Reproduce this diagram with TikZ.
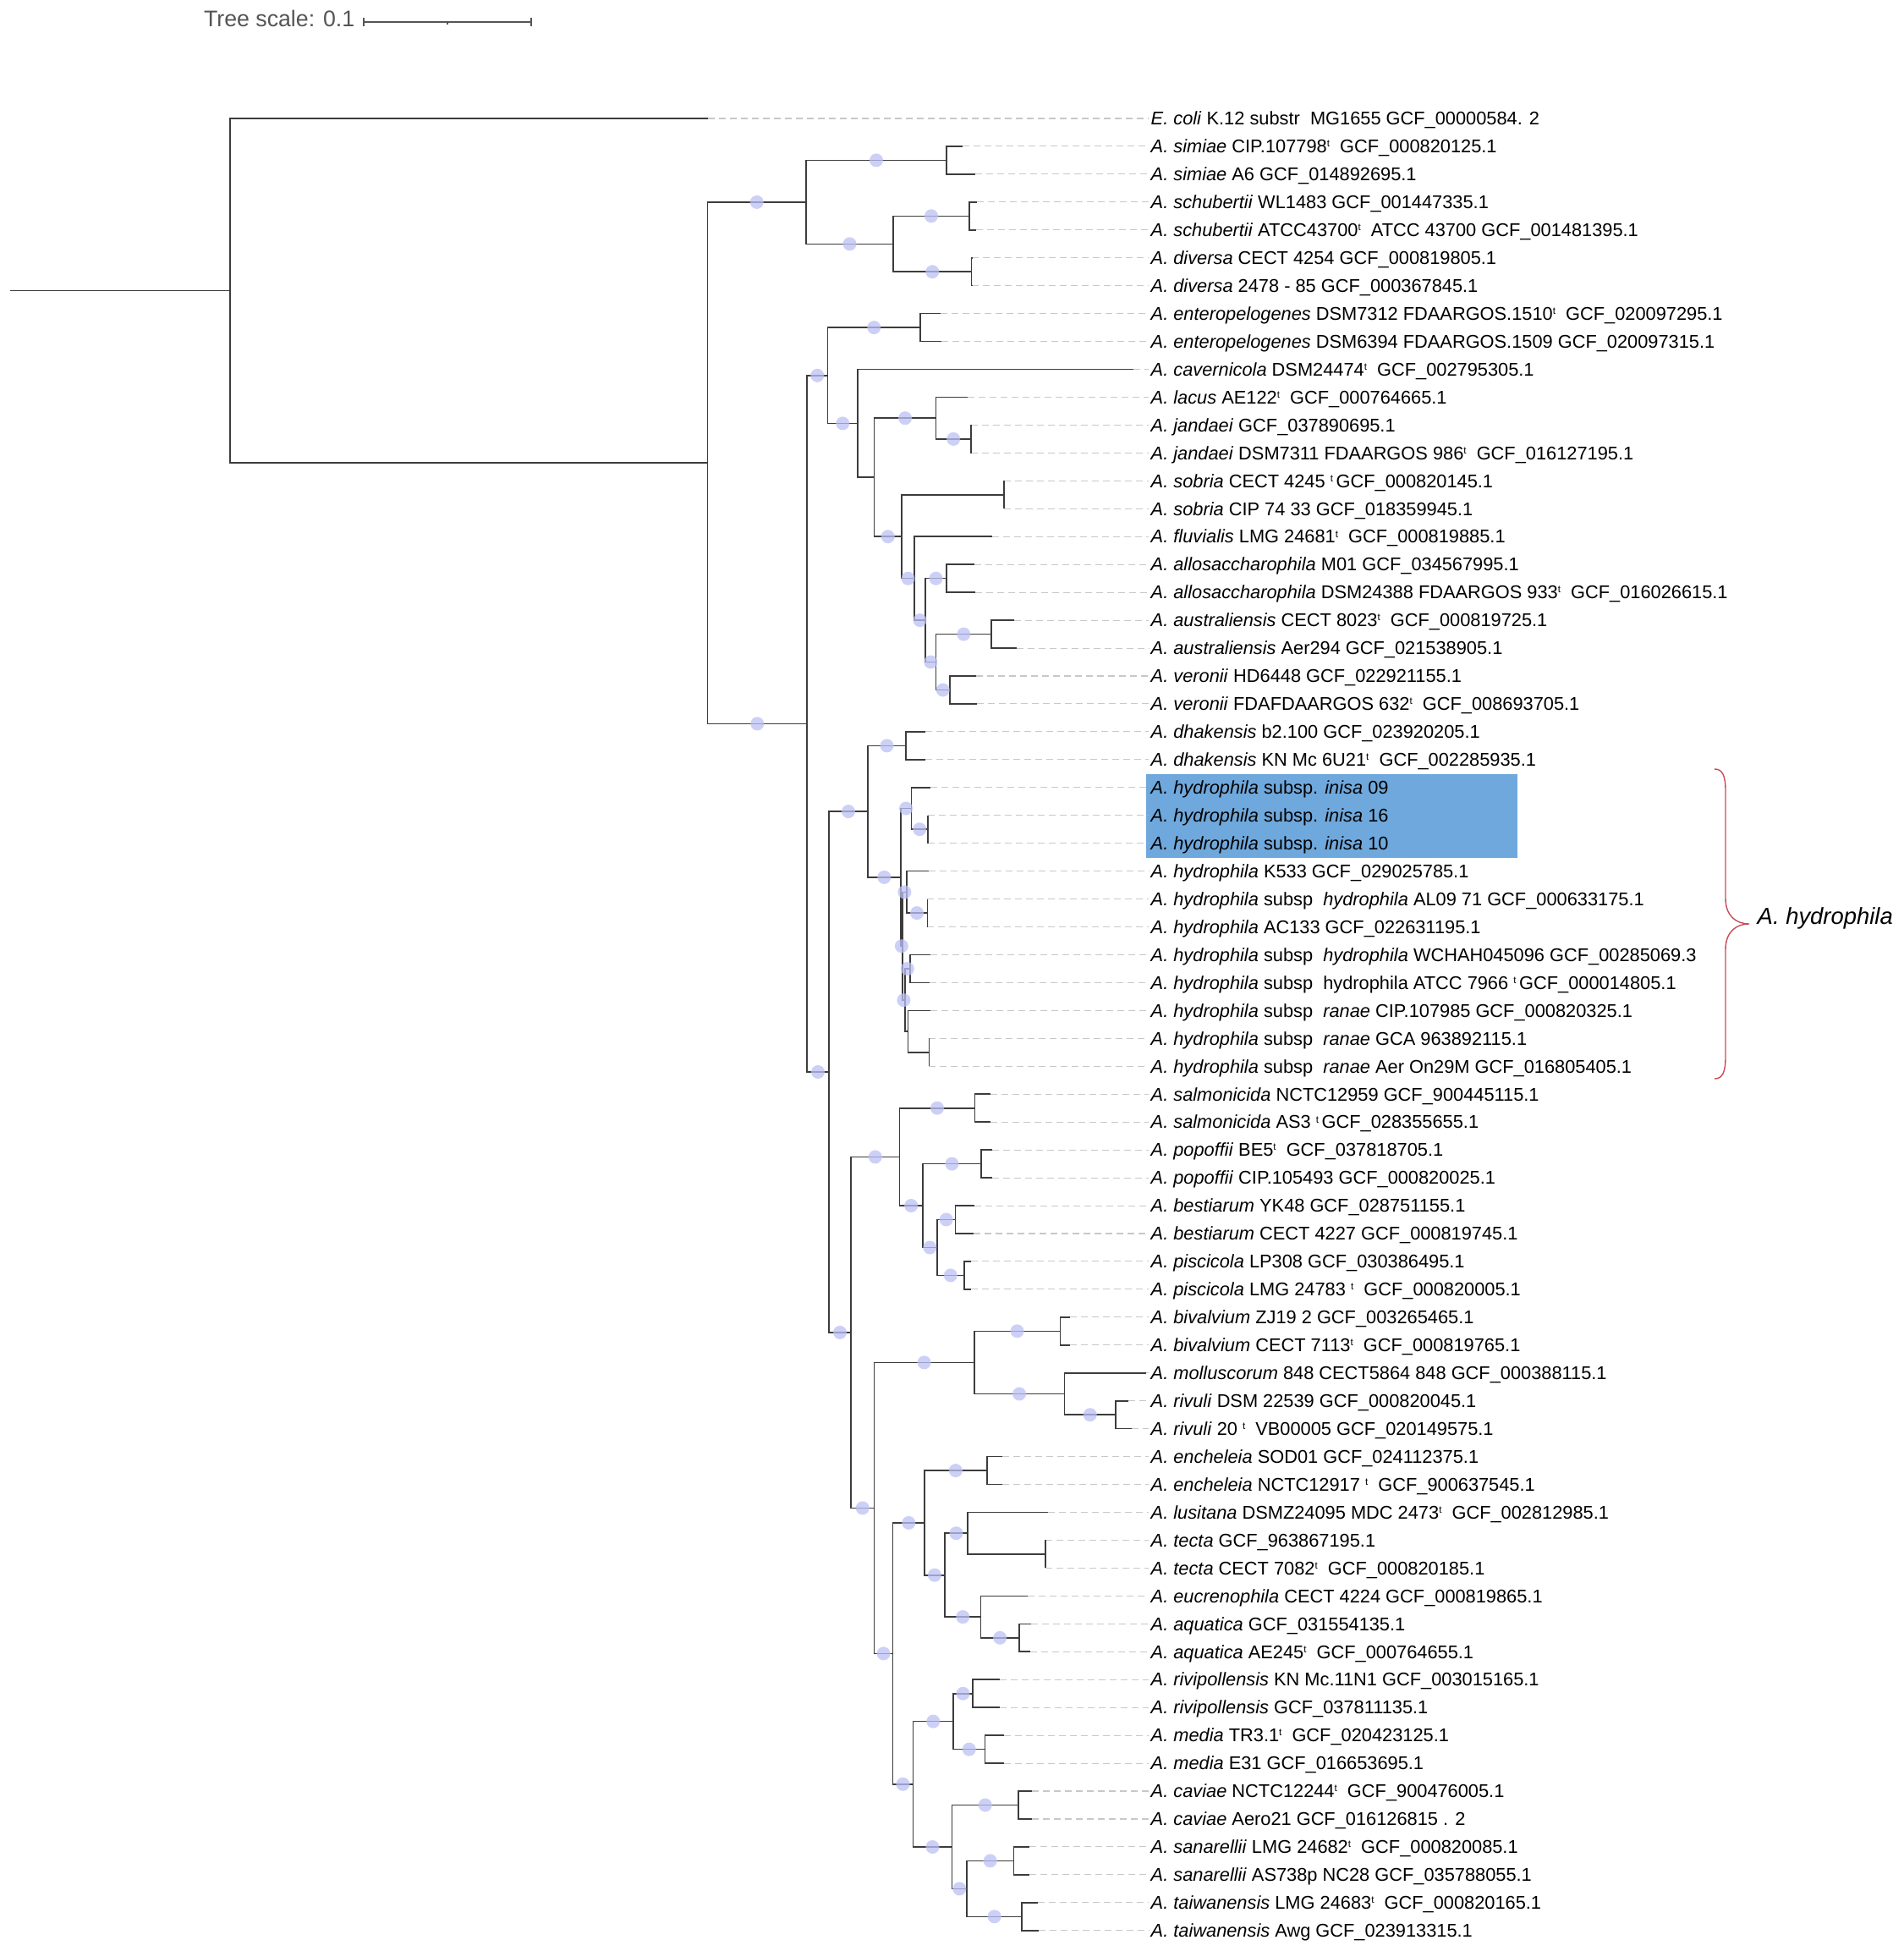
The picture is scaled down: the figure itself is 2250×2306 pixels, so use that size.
\documentclass[tikz,border=0pt]{standalone}
\usepackage{fontspec}
\setmainfont{Liberation Sans}
\usepackage{tikz}
\definecolor{branchcol}{RGB}{60,60,60}
\definecolor{guidecol}{RGB}{200,200,200}
\definecolor{bootcol}{RGB}{188,192,243}
\definecolor{hlcol}{RGB}{111,168,220}
\definecolor{bracecol}{RGB}{200,75,85}
\definecolor{scalecol}{RGB}{85,85,85}
\tikzstyle{branch} = [draw=branchcol, line width=0.45pt]
\tikzstyle{guide} = [draw=guidecol, line width=0.3pt, dash pattern=on 0.08cm off 0.05cm]
\tikzstyle{boot} = [circle, fill=bootcol, fill opacity=0.75, inner sep=0pt, minimum size=0.16cm]
\tikzstyle{leaf} = [anchor=west, inner xsep=0.02cm, inner ysep=0pt, text height=4.4pt, text depth=0pt,
                    font=\fontsize{6.2}{7}\selectfont]
\tikzstyle{hlbox} = [fill=hlcol]
\tikzstyle{bracecurve} = [draw=bracecol, line width=0.4pt]
\tikzstyle{cladelabel} = [inner sep=0pt, font=\fontsize{7.8}{9}\selectfont\itshape]
\tikzstyle{scaletext} = [inner sep=0pt, text=scalecol, font=\fontsize{7.6}{9}\selectfont]
\tikzstyle{scalebar} = [draw=scalecol, line width=0.4pt]
\newcommand\tsup{\raisebox{0.6ex}{\fontsize{3.3}{3}\selectfont t}}

\begin{document}
\begin{tikzpicture}[x=0.01cm, y=-0.01cm]
    \useasboundingbox (0,0) rectangle (2250,2306);

    % Tree scale
    \node[scaletext, anchor=base east] (scale) at (420,32) {Tree scale: 0.1};
    \coordinate (sb0) at (430,26);
    \coordinate (sbm) at (529,26);
    \coordinate (sb1) at (628,26);
    \draw[scalebar] (sb0) -- (sb1);
    \draw[scalebar] (sb0) ++(0,-5) -- ++(0,10);
    \draw[scalebar] (sb1) ++(0,-5) -- ++(0,10);
    \draw[scalebar] (sbm) -- ++(0,3);

    % Internal nodes
    \coordinate (stem) at (12,343.6);
    \coordinate (root) at (272,343.6);
    \coordinate (n266) at (836.5,547.2);
    \coordinate (n27) at (953,238.9);
    \coordinate (n23) at (1119,189.4);
    \coordinate (n4567) at (1056,288.3);
    \coordinate (n45) at (1146,255.3);
    \coordinate (n67) at (1148.5,321.2);
    \coordinate (n866) at (954,855.4);
    \coordinate (n822) at (978.5,443.8);
    \coordinate (n89) at (1088,387.1);
    \coordinate (n1022) at (1014,500.4);
    \coordinate (n1122) at (1033.5,564.2);
    \coordinate (n1113) at (1106.6,494.2);
    \coordinate (n1213) at (1147.7,518.9);
    \coordinate (n1422) at (1066,634.2);
    \coordinate (n1415) at (1187,584.8);
    \coordinate (n1622) at (1081,683.7);
    \coordinate (n1722) at (1094,733.1);
    \coordinate (n1718) at (1119,683.7);
    \coordinate (n1922) at (1106.6,782.5);
    \coordinate (n1920) at (1172,749.6);
    \coordinate (n2122) at (1122.8,815.5);
    \coordinate (n2366) at (980,1267);
    \coordinate (n2335) at (1026,959.1);
    \coordinate (n2324) at (1071,881.4);
    \coordinate (n2535) at (1064.7,1036.9);
    \coordinate (n2527) at (1077.4,955.5);
    \coordinate (n2627) at (1097,980.2);
    \coordinate (n2835) at (1067,1118.2);
    \coordinate (n2830) at (1071.8,1054.4);
    \coordinate (n2930) at (1096.3,1079.1);
    \coordinate (n3135) at (1069.8,1182.1);
    \coordinate (n3132) at (1075.8,1145);
    \coordinate (n3335) at (1073.4,1219.1);
    \coordinate (n3435) at (1098.3,1243.8);
    \coordinate (n3666) at (1006,1574.9);
    \coordinate (n3643) at (1063.5,1367.4);
    \coordinate (n3637) at (1152.5,1309.7);
    \coordinate (n3843) at (1090.8,1425);
    \coordinate (n3839) at (1160,1375.6);
    \coordinate (n4043) at (1107.8,1474.5);
    \coordinate (n4041) at (1129.5,1441.5);
    \coordinate (n4243) at (1139.8,1507.4);
    \coordinate (n4466) at (1033.5,1782.4);
    \coordinate (n4448) at (1151.7,1610.4);
    \coordinate (n4445) at (1253.3,1573.3);
    \coordinate (n4648) at (1258.4,1647.5);
    \coordinate (n4748) at (1319,1672.2);
    \coordinate (n4966) at (1055.6,1954.4);
    \coordinate (n4956) at (1093,1799.9);
    \coordinate (n4950) at (1166.7,1738.1);
    \coordinate (n5156) at (1116.9,1861.7);
    \coordinate (n5153) at (1144,1812.2);
    \coordinate (n5253) at (1236,1836.9);
    \coordinate (n5456) at (1159.6,1911.1);
    \coordinate (n5556) at (1204.7,1935.8);
    \coordinate (n5766) at (1079.3,2108.8);
    \coordinate (n5760) at (1127.2,2034.6);
    \coordinate (n5758) at (1149.7,2001.7);
    \coordinate (n5960) at (1164.3,2067.6);
    \coordinate (n6166) at (1125.6,2183);
    \coordinate (n6162) at (1203.9,2133.5);
    \coordinate (n6366) at (1143,2232.4);
    \coordinate (n6364) at (1198.3,2199.4);
    \coordinate (n6566) at (1208.2,2265.3);

    % Highlighted isolates
    \fill[hlbox] (1354.5,914.6) rectangle (1794,1014);

    % Leaves: index / tip x / parent / label
    \foreach \i/\x/\p/\lab in {
      1/836.5/root/{\textit{E. coli} K.12 substr\ \ MG1655 GCF\_00000584. 2},
      2/1138/n23/{\textit{A. simiae} CIP.107798\tsup\ \ GCF\_000820125.1},
      3/1152.5/n23/{\textit{A. simiae} A6 GCF\_014892695.1},
      4/1155/n45/{\textit{A. schubertii} WL1483 GCF\_001447335.1},
      5/1154/n45/{\textit{A. schubertii} ATCC43700\tsup\ \ ATCC 43700 GCF\_001481395.1},
      6/1149/n67/{\textit{A. diversa} CECT 4254 GCF\_000819805.1},
      7/1149/n67/{\textit{A. diversa} 2478 - 85 GCF\_000367845.1},
      8/1112/n89/{\textit{A. enteropelogenes} DSM7312 FDAARGOS.1510\tsup\ \ GCF\_020097295.1},
      9/1113/n89/{\textit{A. enteropelogenes} DSM6394 FDAARGOS.1509 GCF\_020097315.1},
      10/1340/n1022/{\textit{A. cavernicola} DSM24474\tsup\ \ GCF\_002795305.1},
      11/1144/n1113/{\textit{A. lacus} AE122\tsup\ \ GCF\_000764665.1},
      12/1148/n1213/{\textit{A. jandaei} GCF\_037890695.1},
      13/1148/n1213/{\textit{A. jandaei} DSM7311 FDAARGOS 986\tsup\ \ GCF\_016127195.1},
      14/1187/n1415/{\textit{A. sobria} CECT 4245 \tsup\,GCF\_000820145.1},
      15/1187/n1415/{\textit{A. sobria} CIP 74 33 GCF\_018359945.1},
      16/1172.6/n1622/{\textit{A. fluvialis} LMG 24681\tsup\ \ GCF\_000819885.1},
      17/1151.7/n1718/{\textit{A. allosaccharophila} M01 GCF\_034567995.1},
      18/1153/n1718/{\textit{A. allosaccharophila} DSM24388 FDAARGOS 933\tsup\ \ GCF\_016026615.1},
      19/1199/n1920/{\textit{A. australiensis} CECT 8023\tsup\ \ GCF\_000819725.1},
      20/1201.5/n1920/{\textit{A. australiensis} Aer294 GCF\_021538905.1},
      21/1153.6/n2122/{\textit{A. veronii} HD6448 GCF\_022921155.1},
      22/1154.8/n2122/{\textit{A. veronii} FDAFDAARGOS 632\tsup\ \ GCF\_008693705.1},
      23/1093.6/n2324/{\textit{A. dhakensis} b2.100 GCF\_023920205.1},
      24/1093.6/n2324/{\textit{A. dhakensis} KN Mc 6U21\tsup\ \ GCF\_002285935.1},
      25/1099.5/n2527/{\textit{A. hydrophila} subsp. \textit{inisa} 09},
      26/1097/n2627/{\textit{A. hydrophila} subsp. \textit{inisa} 16},
      27/1097/n2627/{\textit{A. hydrophila} subsp. \textit{inisa} 10},
      28/1097.5/n2830/{\textit{A. hydrophila} K533 GCF\_029025785.1},
      29/1096.3/n2930/{\textit{A. hydrophila} subsp\ \ \textit{hydrophila} AL09 71 GCF\_000633175.1},
      30/1096.3/n2930/{\textit{A. hydrophila} AC133 GCF\_022631195.1},
      31/1100/n3132/{\textit{A. hydrophila} subsp\ \ \textit{hydrophila} WCHAH045096 GCF\_00285069.3},
      32/1099/n3132/{\textit{A. hydrophila} subsp\ \ hydrophila ATCC 7966 \tsup\,GCF\_000014805.1},
      33/1099.5/n3335/{\textit{A. hydrophila} subsp\ \ \textit{ranae} CIP.107985 GCF\_000820325.1},
      34/1098.3/n3435/{\textit{A. hydrophila} subsp\ \ \textit{ranae} GCA 963892115.1},
      35/1098.3/n3435/{\textit{A. hydrophila} subsp\ \ \textit{ranae} Aer On29M GCF\_016805405.1},
      36/1170.7/n3637/{\textit{A. salmonicida} NCTC12959 GCF\_900445115.1},
      37/1170.7/n3637/{\textit{A. salmonicida} AS3 \tsup\,GCF\_028355655.1},
      38/1172.6/n3839/{\textit{A. popoffii} BE5\tsup\ \ GCF\_037818705.1},
      39/1172.6/n3839/{\textit{A. popoffii} CIP.105493 GCF\_000820025.1},
      40/1151.7/n4041/{\textit{A. bestiarum} YK48 GCF\_028751155.1},
      41/1150.5/n4041/{\textit{A. bestiarum} CECT 4227 GCF\_000819745.1},
      42/1147.7/n4243/{\textit{A. piscicola} LP308 GCF\_030386495.1},
      43/1147.7/n4243/{\textit{A. piscicola} LMG 24783 \tsup\ \ GCF\_000820005.1},
      44/1265/n4445/{\textit{A. bivalvium} ZJ19 2 GCF\_003265465.1},
      45/1265/n4445/{\textit{A. bivalvium} CECT 7113\tsup\ \ GCF\_000819765.1},
      46/1354.5/n4648/{\textit{A. molluscorum} 848 CECT5864 848 GCF\_000388115.1},
      47/1333.6/n4748/{\textit{A. rivuli} DSM 22539 GCF\_000820045.1},
      48/1338/n4748/{\textit{A. rivuli} 20 \tsup\ \ VB00005 GCF\_020149575.1},
      49/1185.3/n4950/{\textit{A. encheleia} SOD01 GCF\_024112375.1},
      50/1185.3/n4950/{\textit{A. encheleia} NCTC12917 \tsup\ \ GCF\_900637545.1},
      51/1238.7/n5153/{\textit{A. lusitana} DSMZ24095 MDC 2473\tsup\ \ GCF\_002812985.1},
      52/1236/n5253/{\textit{A. tecta} GCF\_963867195.1},
      53/1236/n5253/{\textit{A. tecta} CECT 7082\tsup\ \ GCF\_000820185.1},
      54/1215/n5456/{\textit{A. eucrenophila} CECT 4224 GCF\_000819865.1},
      55/1219/n5556/{\textit{A. aquatica} GCF\_031554135.1},
      56/1218/n5556/{\textit{A. aquatica} AE245\tsup\ \ GCF\_000764655.1},
      57/1182/n5758/{\textit{A. rivipollensis} KN Mc.11N1 GCF\_003015165.1},
      58/1182/n5758/{\textit{A. rivipollensis} GCF\_037811135.1},
      59/1186.5/n5960/{\textit{A. media} TR3.1\tsup\ \ GCF\_020423125.1},
      60/1186.5/n5960/{\textit{A. media} E31 GCF\_016653695.1},
      61/1220/n6162/{\textit{A. caviae} NCTC12244\tsup\ \ GCF\_900476005.1},
      62/1220/n6162/{\textit{A. caviae} Aero21 GCF\_016126815 . 2},
      63/1217/n6364/{\textit{A. sanarellii} LMG 24682\tsup\ \ GCF\_000820085.1},
      64/1217/n6364/{\textit{A. sanarellii} AS738p NC28 GCF\_035788055.1},
      65/1227/n6566/{\textit{A. taiwanensis} LMG 24683\tsup\ \ GCF\_000820165.1},
      66/1227.6/n6566/{\textit{A. taiwanensis} Awg GCF\_023913315.1}} {
        \coordinate (t\i) at (\x,{140+32.95*(\i-1)});
        \node[leaf] (l\i) at (1358,{140+32.95*(\i-1)}) {\lab};
        \draw[guide] (t\i) -- (l\i.west);
        \draw[branch] (\p) |- (t\i);
    }

    % Internal branches
    \def\supported{n266/n27, n266/n866, n27/n23, n27/n4567, n4567/n45, n4567/n67,
      n866/n822, n866/n2366, n822/n89, n822/n1022, n1122/n1113, n1122/n1422,
      n1113/n1213, n1422/n1622, n1622/n1722, n1722/n1718, n1722/n1922,
      n1922/n1920, n1922/n2122, n2366/n2335, n2366/n3666, n2335/n2324,
      n2335/n2535, n2535/n2527, n2535/n2835, n2527/n2627, n2835/n2830,
      n2835/n3135, n2830/n2930, n3135/n3132, n3666/n3643, n3666/n4466,
      n3643/n3637, n3643/n3843, n3843/n3839, n3843/n4043, n4043/n4041,
      n4043/n4243, n4466/n4448, n4466/n4966, n4448/n4445, n4448/n4648,
      n4648/n4748, n4966/n4956, n4966/n5766, n4956/n4950, n4956/n5156,
      n5156/n5153, n5156/n5456, n5456/n5556, n5766/n5760, n5766/n6166,
      n5760/n5758, n5760/n5960, n6166/n6162, n6166/n6366, n6366/n6364,
      n6366/n6566}
    \draw[branch] (stem) -- (root);
    \foreach \p/\c in {root/n266, n1022/n1122, n1422/n1415, n3135/n3335, n3335/n3435, n5153/n5253}
        \draw[branch] (\p) |- (\c);
    \foreach \p/\c in \supported
        \draw[branch] (\p) |- (\c);

    % Bootstrap support
    \foreach \p/\c in \supported
        \path (\p) |- (\c) node[boot, pos=0.75] {};

    % Species bracket
    \coordinate (bt) at (2027,909);
    \coordinate (btip) at (2068,1092);
    \coordinate (bb) at (2027,1275);
    \draw[bracecurve] (bt) .. controls (2036,909) and (2040,916) .. (2040,935)
        -- (2040,1062) .. controls (2040,1082) and (2052,1092) .. (btip)
        .. controls (2052,1092) and (2040,1102) .. (2040,1122)
        -- (2040,1249) .. controls (2040,1268) and (2036,1275) .. (bb);
    \node[cladelabel, anchor=base west] (hyd) at (2077,1092) {A. hydrophila};
\end{tikzpicture}
\end{document}
